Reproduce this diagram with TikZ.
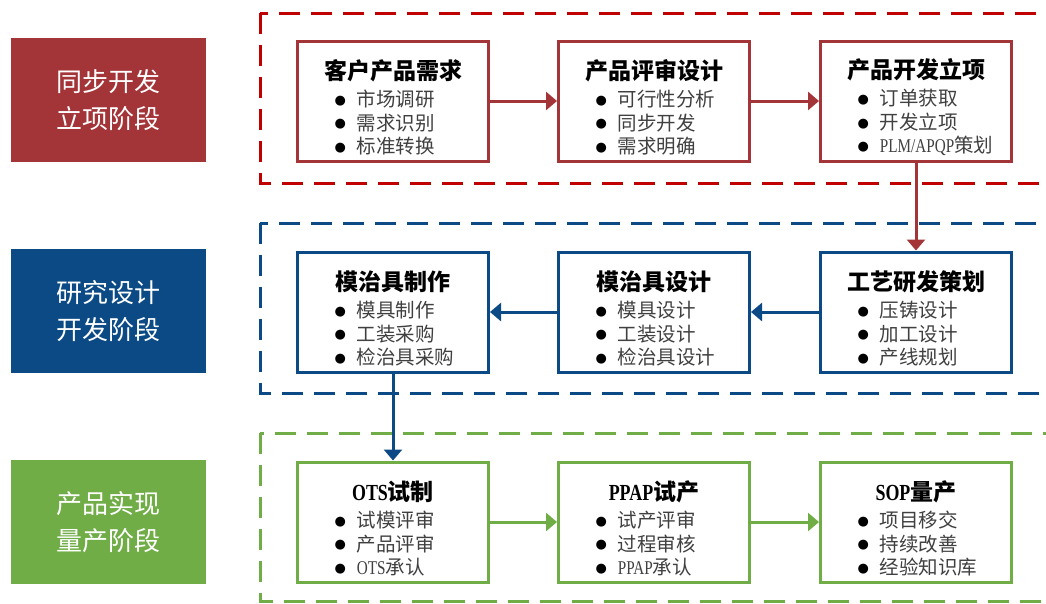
\documentclass[tikz,border=0pt]{standalone}
\usepackage{fontspec}
\usepackage{xcolor}
\usetikzlibrary{arrows.meta}
\setmainfont{Noto Sans CJK SC}
\newfontfamily\sym{DejaVu Sans}
\newfontfamily\lat[FakeStretch=0.78]{Liberation Serif}

\definecolor{cRed}{HTML}{A33438}
\definecolor{dRed}{HTML}{C00000}
\definecolor{cBlue}{HTML}{0B4A84}
\definecolor{cGreen}{HTML}{70AD47}
\definecolor{itemGray}{HTML}{404040}

\newcommand{\bul}{\hspace*{37pt}{\color{black}\sym\fontsize{13}{13}\selectfont\raisebox{2.3pt}{●}}\hspace{11pt}}
\newcommand{\ttl}[1]{{\centering\color{black}\bfseries\fontsize{23}{27}\selectfont\rule{0pt}{33pt}#1\par}\vspace{3.5pt}}

\tikzset{
  stage/.style={minimum width=195pt, minimum height=124pt, inner sep=0pt, text=white, align=center,
    font=\fontsize{26}{37}\selectfont},
  task/.style={draw, line width=3pt, fill=white, minimum width=191pt, minimum height=120pt,
    inner xsep=0pt, text width=191pt, align=left, text=itemGray, font=\fontsize{19.5}{23.5}\selectfont},
  frame/.style={line width=3pt, dash pattern=on 21pt off 11pt},
  flow/.style={line width=3pt, -{Triangle[length=11pt,width=18pt]}},
}

\begin{document}
\begin{tikzpicture}[x=1pt,y=-1pt]
  \useasboundingbox (0,0) rectangle (1046,603);
  \clip (0,0) rectangle (1046,603);

  % dashed stage frames
  \draw[frame, draw=dRed] (260,13) rectangle (1070,183);
  \draw[frame, draw=cBlue] (260,223) rectangle (1070,393);
  \draw[frame, draw=cGreen] (260,433) rectangle (1070,601);

  % stage labels
  \node[stage, fill=cRed] (stageA) at (108,100) {同步开发\\立项阶段};
  \node[stage, fill=cBlue] (stageB) at (108,311) {研究设计\\开发阶段};
  \node[stage, fill=cGreen] (stageC) at (108,522) {产品实现\\量产阶段};

  % first row
  \node[task, draw=cRed] (demand) at (393,101)
    {\ttl{客户产品需求}\bul 市场调研\\\bul 需求识别\\\bul 标准转换};
  \node[task, draw=cRed] (review) at (654,101)
    {\ttl{产品评审设计}\bul 可行性分析\\\bul 同步开发\\\bul 需求明确};
  \node[task, draw=cRed] (launch) at (916,101)
    {\ttl{产品开发立项}\bul 订单获取\\\bul 开发立项\\\bul\mbox{\lat PLM/APQP}策划};

  % second row
  \node[task, draw=cBlue] (toolmake) at (393,312)
    {\ttl{模治具制作}\bul 模具制作\\\bul 工装采购\\\bul 检治具采购};
  \node[task, draw=cBlue] (tooldes) at (654,312)
    {\ttl{模治具设计}\bul 模具设计\\\bul 工装设计\\\bul 检治具设计};
  \node[task, draw=cBlue] (process) at (916,312)
    {\ttl{工艺研发策划}\bul 压铸设计\\\bul 加工设计\\\bul 产线规划};

  % third row
  \node[task, draw=cGreen] (ots) at (393,522)
    {\ttl{{\lat OTS}试制}\bul 试模评审\\\bul 产品评审\\\bul\mbox{\lat OTS}承认};
  \node[task, draw=cGreen] (ppap) at (654,522)
    {\ttl{{\lat PPAP}试产}\bul 试产评审\\\bul 过程审核\\\bul\mbox{\lat PPAP}承认};
  \node[task, draw=cGreen] (sop) at (916,522)
    {\ttl{{\lat SOP}量产}\bul 项目移交\\\bul 持续改善\\\bul 经验知识库};

  \draw[flow, draw=cRed, fill=cRed] (demand) -- (review);
  \draw[flow, draw=cRed, fill=cRed] (review) -- (launch);
  \draw[flow, draw=cRed, fill=cRed] (launch) -- (process);
  \draw[flow, draw=cBlue, fill=cBlue] (process) -- (tooldes);
  \draw[flow, draw=cBlue, fill=cBlue] (tooldes) -- (toolmake);
  \draw[flow, draw=cBlue, fill=cBlue] (toolmake) -- (ots);
  \draw[flow, draw=cGreen, fill=cGreen] (ots) -- (ppap);
  \draw[flow, draw=cGreen, fill=cGreen] (ppap) -- (sop);
\end{tikzpicture}
\end{document}
